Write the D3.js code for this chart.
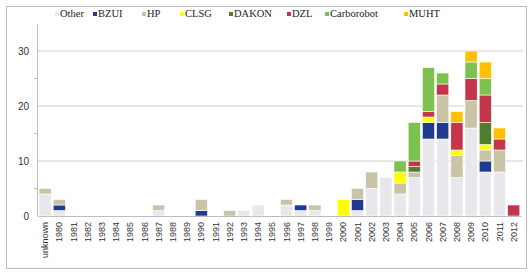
<!DOCTYPE html>
<html>
<head>
<meta charset="utf-8">
<script src="https://cdn.jsdelivr.net/npm/d3@7"></script>
<style>
  body { margin: 0; background: #fff; }
  svg { display: block; }
</style>
</head>
<body>
<div id="chart"></div>
<script>
// categories (years)
var years = ["unknown", "1980", "1981", "1982", "1983", "1984", "1985", "1986", "1987", "1988",
  "1989", "1990", "1991", "1992", "1993", "1994", "1995", "1996", "1997", "1998", "1999",
  "2000", "2001", "2002", "2003", "2004", "2005", "2006", "2007", "2008", "2009", "2010",
  "2011", "2012"];

// series values, one per year
var other      = [4, 1, 0, 0, 0, 0, 0, 0, 1, 0, 0, 0, 0, 0, 1, 2, 0, 2, 1, 1, 0, 0, 1, 5, 7, 4, 7, 14, 14, 7, 16, 8, 8, 0];
var bzui       = [0, 1, 0, 0, 0, 0, 0, 0, 0, 0, 0, 1, 0, 0, 0, 0, 0, 0, 1, 0, 0, 0, 2, 0, 0, 0, 0, 3, 3, 0, 0, 2, 0, 0];
var hp         = [1, 1, 0, 0, 0, 0, 0, 0, 1, 0, 0, 2, 0, 1, 0, 0, 0, 1, 0, 1, 0, 0, 2, 3, 0, 2, 1, 0, 5, 4, 5, 2, 4, 0];
var clsg       = [0, 0, 0, 0, 0, 0, 0, 0, 0, 0, 0, 0, 0, 0, 0, 0, 0, 0, 0, 0, 0, 3, 0, 0, 0, 2, 0, 1, 0, 1, 0, 1, 0, 0];
var dakon      = [0, 0, 0, 0, 0, 0, 0, 0, 0, 0, 0, 0, 0, 0, 0, 0, 0, 0, 0, 0, 0, 0, 0, 0, 0, 0, 1, 0, 0, 0, 0, 4, 0, 0];
var dzl        = [0, 0, 0, 0, 0, 0, 0, 0, 0, 0, 0, 0, 0, 0, 0, 0, 0, 0, 0, 0, 0, 0, 0, 0, 0, 0, 1, 1, 2, 5, 4, 5, 2, 2];
var carborobot = [0, 0, 0, 0, 0, 0, 0, 0, 0, 0, 0, 0, 0, 0, 0, 0, 0, 0, 0, 0, 0, 0, 0, 0, 0, 2, 7, 8, 2, 0, 3, 3, 0, 0];
var muht       = [0, 0, 0, 0, 0, 0, 0, 0, 0, 0, 0, 0, 0, 0, 0, 0, 0, 0, 0, 0, 0, 0, 0, 0, 0, 0, 0, 0, 0, 2, 2, 3, 2, 0];

var seriesNames = ["Other", "BZUI", "HP", "CLSG", "DAKON", "DZL", "Carborobot", "MUHT"];
var seriesValues = [other, bzui, hp, clsg, dakon, dzl, carborobot, muht];
var yTicks = [0, 10, 20, 30];

var colors = {
  "Other": "#e8e8ec",
  "BZUI": "#1f3a8f",
  "HP": "#c9c4a6",
  "CLSG": "#ffff00",
  "DAKON": "#4f7d2b",
  "DZL": "#c4344a",
  "Carborobot": "#7dc24e",
  "MUHT": "#ffc000"
};

// build table for d3.stack
var table = years.map(function (y, i) {
  var row = { year: y };
  seriesNames.forEach(function (s, j) { row[s] = seriesValues[j][i]; });
  return row;
});

var W = 530, H = 273;
var svg = d3.select("#chart").append("svg")
  .attr("width", W)
  .attr("height", H);

// outer frame
svg.append("rect")
  .attr("x", 6.5).attr("y", 6.5)
  .attr("width", 520).attr("height", 262)
  .attr("fill", "#fff")
  .attr("stroke", "#bdbdbd");

var xScale = d3.scaleBand()
  .domain(years)
  .range([38, 520.8])
  .paddingInner(0.14)
  .paddingOuter(0.07);

var yScale = d3.scaleLinear()
  .domain([0, 35])
  .range([216, 23.5]);

// gridlines
svg.append("g")
  .selectAll("line")
  .data(yTicks.slice(1))
  .enter()
  .append("line")
    .attr("x1", 37).attr("x2", 523)
    .attr("y1", function (d) { return yScale(d); })
    .attr("y2", function (d) { return yScale(d); })
    .attr("stroke", "#cfcfcf")
    .attr("stroke-width", 1.2);

// stacked bars
var stack = d3.stack().keys(seriesNames);
var layers = stack(table);

svg.append("g")
  .selectAll("g")
  .data(layers)
  .enter()
  .append("g")
    .attr("fill", function (d) { return colors[d.key]; })
  .selectAll("rect")
  .data(function (d) { return d.filter(function (p) { return p[1] - p[0] > 0; }); })
  .enter()
  .append("rect")
    .attr("x", function (d) { return xScale(d.data.year); })
    .attr("width", xScale.bandwidth())
    .attr("y", function (d) { return yScale(d[1]); })
    .attr("height", function (d) { return yScale(d[0]) - yScale(d[1]); })
    .attr("stroke", "#fff")
    .attr("stroke-width", 0.6);

// y axis
var yAxis = svg.append("g")
  .attr("transform", "translate(37,0)")
  .call(d3.axisLeft(yScale).tickValues(yTicks).tickSize(0).tickPadding(8));
yAxis.select(".domain").attr("stroke", "#bdbdbd");
yAxis.selectAll("text")
  .attr("font-family", "Liberation Sans, Arial, sans-serif")
  .attr("font-size", "10px")
  .attr("fill", "#333");

// minor ticks on y axis
svg.append("g")
  .selectAll("line")
  .data([5, 15, 25])
  .enter()
  .append("line")
    .attr("x1", 34).attr("x2", 37)
    .attr("y1", function (d) { return yScale(d); })
    .attr("y2", function (d) { return yScale(d); })
    .attr("stroke", "#bdbdbd");

// x axis
var xAxis = svg.append("g")
  .attr("transform", "translate(0,216)")
  .call(d3.axisBottom(xScale).tickSize(0).tickPadding(5));
xAxis.select(".domain").attr("stroke", "#bdbdbd");
xAxis.selectAll("text")
  .attr("font-family", "Liberation Sans, Arial, sans-serif")
  .attr("font-size", "9px")
  .attr("fill", "#333")
  .attr("text-anchor", "end")
  .attr("dy", "0.35em")
  .attr("transform", "translate(0,6) rotate(-90)")
  .attr("x", 0)
  .attr("y", 0);

// legend
var legendX = [55, 93, 142, 180, 229, 287, 325, 404];
var legend = svg.append("g")
  .selectAll("g")
  .data(seriesNames)
  .enter()
  .append("g")
    .attr("transform", function (d, i) { return "translate(" + legendX[i] + ",16)"; });
legend.append("rect")
  .attr("x", 0).attr("y", -4)
  .attr("width", 4).attr("height", 4)
  .attr("fill", function (d) { return colors[d]; });
legend.append("text")
  .attr("x", 5)
  .attr("y", 1)
  .attr("font-family", "Liberation Serif, Times New Roman, serif")
  .attr("font-size", "10.5px")
  .attr("fill", "#222")
  .text(function (d) { return d; });
</script>
</body>
</html>
